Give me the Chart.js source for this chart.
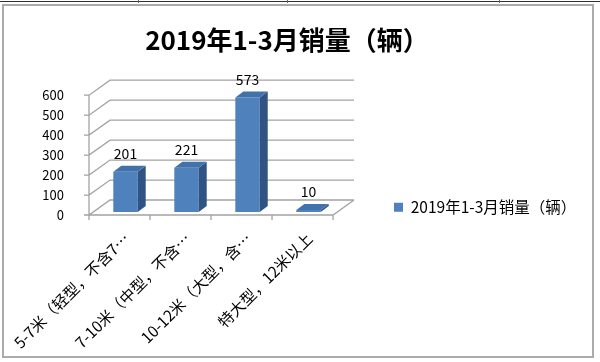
<!DOCTYPE html>
<html>
<head>
<meta charset="utf-8">
<script src="https://cdn.jsdelivr.net/npm/chart.js@4"></script>
<style>
html, body { margin: 0; padding: 0; background: #fff; }
#wrap { position: relative; width: 600px; height: 362px; overflow: hidden; }
#topline { position: absolute; left: 0; top: 1px; width: 600px; height: 1px; background: #333; }
.cell { position: absolute; top: 0; width: 1px; height: 3px; background: #666; }
#frame { position: absolute; left: 2px; top: 4px; width: 592px; height: 354px; border: 2px solid #ababab; box-sizing: border-box; }
canvas { position: absolute; left: 0; top: 0; }
</style>
</head>
<body>
<div id="wrap">
  <div id="topline"></div>
  <div class="cell" style="left:138px"></div>
  <div class="cell" style="left:287px"></div>
  <div class="cell" style="left:499px"></div>
  <div id="frame"></div>
  <canvas id="barChart" width="574" height="362"></canvas>
</div>
<script>
// data
const categories = ['5-7米（轻型，不含7…', '7-10米（中型，不含…', '10-12米（大型，含…', '特大型，12米以上'];
const sales = [201, 221, 573, 10];
const yTicks = [0, 100, 200, 300, 400, 500, 600];
const seriesName = '2019年1-3月销量（辆）';

// fake 3d look (excel style)
const WALL = { x: 21, y: -15 };
const SHIFT = { x: 6, y: -3 };
const DEPTH = { x: 8, y: -6 };

const fake3d = {
  id: 'fake3d',
  afterLayout(chart) {
    // legend box is capped narrow by the layout, widen it so the text is not clipped
    const lg = chart.legend;
    lg.left = 394;
    lg.right = chart.width;
    lg.width = lg.right - lg.left;
  },
  beforeDatasetsDraw(chart) {
    const { ctx, chartArea: a, scales: { x, y } } = chart;
    ctx.save();
    ctx.strokeStyle = '#a3a3a3';
    ctx.lineWidth = 1.3;
    ctx.beginPath();
    yTicks.forEach(v => {
      const py = y.getPixelForValue(v);
      ctx.moveTo(a.left - 5, py);
      ctx.lineTo(a.left, py);
      ctx.lineTo(a.left + WALL.x, py + WALL.y);
      ctx.lineTo(a.right + WALL.x, py + WALL.y);
    });
    ctx.moveTo(a.left, y.getPixelForValue(600));
    ctx.lineTo(a.left, a.bottom);
    ctx.lineTo(a.right, a.bottom);
    ctx.lineTo(a.right + WALL.x, a.bottom + WALL.y);
    for (let i = 0; i <= categories.length; i++) {
      const px = x.getPixelForValue(i - 0.5);
      ctx.moveTo(px, a.bottom);
      ctx.lineTo(px, a.bottom + 5);
    }
    ctx.stroke();
    ctx.restore();
    ctx.save();
    ctx.translate(SHIFT.x, SHIFT.y);
  },
  afterDatasetsDraw(chart) {
    const ctx = chart.ctx;
    ctx.restore();
    ctx.save();
    chart.getDatasetMeta(0).data.forEach((bar, i) => {
      const l = bar.x - bar.width / 2 + SHIFT.x;
      const r = bar.x + bar.width / 2 + SHIFT.x;
      const t = bar.y + SHIFT.y;
      const b = bar.base + SHIFT.y;
      // side
      ctx.fillStyle = '#2f5383';
      ctx.beginPath();
      ctx.moveTo(r, t);
      ctx.lineTo(r + DEPTH.x, t + DEPTH.y);
      ctx.lineTo(r + DEPTH.x, b + DEPTH.y);
      ctx.lineTo(r, b);
      ctx.closePath();
      ctx.fill();
      // top
      ctx.fillStyle = '#4272ab';
      ctx.beginPath();
      ctx.moveTo(l, t);
      ctx.lineTo(l + DEPTH.x, t + DEPTH.y);
      ctx.lineTo(r + DEPTH.x, t + DEPTH.y);
      ctx.lineTo(r, t);
      ctx.closePath();
      ctx.fill();
      // value label
      ctx.fillStyle = '#000';
      ctx.font = '14px "Noto Sans CJK SC"';
      ctx.textAlign = 'center';
      ctx.textBaseline = 'middle';
      ctx.fillText(sales[i], bar.x + SHIFT.x, t - 18);
    });
    ctx.restore();
  }
};

Chart.defaults.font.family = '"Noto Sans CJK SC", "Noto Sans", sans-serif';
Chart.defaults.color = '#000';

new Chart(document.getElementById('barChart'), {
  type: 'bar',
  data: {
    labels: categories,
    datasets: [{
      label: seriesName,
      data: sales,
      backgroundColor: '#4f81bd',
      borderWidth: 0,
      barPercentage: 0.4,
      categoryPercentage: 1,
      clip: false
    }]
  },
  options: {
    responsive: false,
    animation: false,
    layout: { padding: 0, autoPadding: false },
    plugins: {
      title: {
        display: true,
        text: seriesName,
        font: { size: 26, weight: 'bold' },
        padding: { top: 25, bottom: 39 }
      },
      legend: {
        position: 'right',
        align: 'end',
        fullSize: false,
        labels: { boxWidth: 9, boxHeight: 9, font: { size: 15.5 }, padding: 0 }
      },
      tooltip: { enabled: false }
    },
    scales: {
      x: {
        grid: { display: false },
        border: { display: false },
        ticks: { minRotation: 45, maxRotation: 45, autoSkip: false, padding: 6, labelOffset: 7, font: { size: 15.5 } },
        afterFit: s => { s.height = 147; s.paddingLeft = 0; s.paddingRight = 0; }
      },
      y: {
        min: 0,
        max: 600,
        ticks: { stepSize: 100, padding: 17, font: { size: 13 } },
        grid: { display: false },
        border: { display: false },
        afterFit: s => { s.width = 89; }
      },
      yRight: {
        type: 'linear',
        axis: 'y',
        position: 'right',
        weight: 2000,
        ticks: { display: false },
        grid: { display: false },
        border: { display: false },
        afterFit: s => { s.width = 145.3; }
      }
    }
  },
  plugins: [fake3d]
});
</script>
</body>
</html>
